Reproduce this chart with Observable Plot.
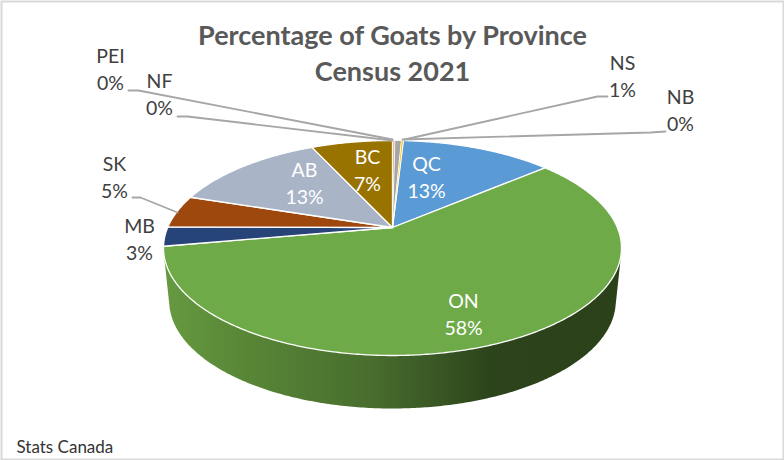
<!DOCTYPE html>
<html>
<head>
<meta charset="utf-8">
<script src="https://cdn.jsdelivr.net/npm/d3@7"></script>
<script src="https://cdn.jsdelivr.net/npm/@observablehq/plot@0.6"></script>
<style>html,body{margin:0;padding:0;background:#fff}svg{display:block}</style>
</head>
<body>
<div id="chart"></div>
<script>
// Data, in pie order (clockwise from 12 o'clock)
const provinces = ["NF", "PEI", "NS", "NB", "QC", "ON", "MB", "SK", "AB", "BC"];
const shares = [0.05, 0.15, 0.55, 0.15, 12.9, 58.4, 2.9, 4.9, 13.1, 6.9];
const sliceColors = ["#5B9BD5", "#ED7D31", "#A5A5A5", "#FFC000", "#5B9BD5", "#6EAA48", "#264478", "#9E480E", "#A9B5C6", "#997300"];

// Label placement, chart coordinates (centre of the two-line label)
const labelOrder = ["NF", "PEI", "NS", "NB", "QC", "ON", "MB", "SK", "AB", "BC"];
const labelX = [159, 110, 622, 680, 426, 463, 139, 114, 304, 367];
const labelY = [95, 70, 77, 111, 178, 315, 240, 178, 184, 171];
const inside = ["QC", "ON", "AB", "BC"];

// Leader lines (label end, elbow, slice end)
const leaderNames = ["NF", "PEI", "NS", "NB", "SK"];
const leaderX = [[177, 187, 392], [128, 138, 392], [607, 597, 404], [665, 650, 402], [132, 140, 177]];
const leaderY = [[116, 116, 140], [90, 90, 139], [96, 96, 139], [131, 132, 139], [197, 197, 212]];

// Projection of the tilted disc
const cx = 392, apexY = 227, a = 224.8, b = 103.6, k = 0.1906;
const depth = 53, bottomScale = 0.975;
function rim(t, r = 1) {
  const u = r * Math.sin(t), v = r * Math.cos(t), w = 1 + k * v;
  return [cx + a * u / w, apexY - b * v / w];
}
const total = d3.sum(shares);
const arcs = [];
let acc = 0;
provinces.forEach((p, i) => {
  const t0 = acc / total * 2 * Math.PI;
  acc += shares[i];
  const t1 = acc / total * 2 * Math.PI;
  arcs.push({province: p, t0, t1, share: shares[i]});
});

const topPoints = [];
for (const s of arcs) {
  const n = Math.max(2, Math.ceil((s.t1 - s.t0) / 0.01));
  topPoints.push({province: s.province, x: cx, y: apexY, sliver: s.share < 1});
  for (let j = 0; j <= n; j++) {
    const [x, y] = rim(s.t0 + (s.t1 - s.t0) * j / n);
    topPoints.push({province: s.province, x, y, sliver: s.share < 1});
  }
}
const widePoints = topPoints.filter(d => !d.sliver);
const sliverPoints = topPoints.filter(d => d.sliver);

// Side wall of the largest slice: hull of its near rim, top and bottom
const on = arcs.find(d => d.province === "ON");
const wallRaw = [];
for (let t = Math.max(on.t0, 1.4); t <= on.t1; t += 0.01) {
  const [x, y] = rim(t);
  wallRaw.push([x, y]);
  wallRaw.push([cx + (x - cx) * bottomScale, y + depth]);
}
const wall = d3.polygonHull(wallRaw).map(([x, y]) => ({x, y}));

const leaderPoints = leaderNames.flatMap((n, i) =>
  leaderX[i].map((x, j) => ({name: n, x, y: leaderY[i][j]})));

const labels = labelOrder.map((n, i) => {
  const s = arcs.find(d => d.province === n);
  return {name: n, x: labelX[i], y: labelY[i], pct: Math.round(s.share) + "%", inside: inside.includes(n)};
});

const titleLines = ["Percentage of Goats by Province", "Census 2021"];
const titleRows = titleLines.map((text, i) => ({text, row: i}));
const font = "Lato, 'Open Sans', sans-serif";

const defs = () => {
  const d = d3.create("svg:defs");
  const g = d.append("linearGradient").attr("id", "sideGradient")
    .attr("x1", "0").attr("x2", "1").attr("y1", "0").attr("y2", "0");
  [[0, "#669a41"], [0.18, "#588636"], [0.45, "#486e2e"], [0.72, "#2c431b"], [1, "#2b411a"]].forEach(([o, c]) =>
    g.append("stop").attr("offset", o).attr("stop-color", c));
  return d.node();
};

const chart = Plot.plot({
  width: 784, height: 460,
  margin: 0,
  x: {domain: [0, 784], range: [0, 784], axis: null},
  y: {domain: [0, 460], range: [0, 460], axis: null},
  color: {type: "ordinal", domain: provinces, range: sliceColors},
  style: {background: "#fff", fontFamily: font},
  marks: [
    defs,
    Plot.line(wall, {x: "x", y: "y", fill: "url(#sideGradient)", stroke: "none", curve: "linear-closed"}),
    Plot.line(widePoints, {x: "x", y: "y", z: "province", fill: "province", stroke: "#fff", strokeWidth: 1.3, curve: "linear-closed", strokeLinejoin: "round"}),
    Plot.line(sliverPoints, {x: "x", y: "y", z: "province", fill: "province", stroke: "#fff", strokeWidth: 0.8, curve: "linear-closed"}),
    Plot.line(leaderPoints, {x: "x", y: "y", z: "name", stroke: "#A6A6A6", strokeWidth: 1.8, curve: "linear"}),
    Plot.text(titleRows, {text: "text", x: () => 392, y: d => 36 + d.row * 36, fontSize: 27, fontWeight: 700, fill: "#595959"}),
    Plot.text(labels, {text: "name", x: "x", y: d => d.y - 13.5, fontSize: 19.5, fill: d => d.inside ? "#fff" : "#404040"}),
    Plot.text(labels, {text: "pct", x: "x", y: d => d.y + 13.5, fontSize: 19.5, fill: d => d.inside ? "#fff" : "#404040"}),
    Plot.text(["Stats Canada"], {text: d => d, x: () => 16, y: () => 447, textAnchor: "start", fontSize: 17, fill: "#333"}),
    Plot.frame({stroke: "#D9D9D9", strokeWidth: 2, inset: 1})
  ]
});
document.getElementById("chart").append(chart);
</script>
</body>
</html>
